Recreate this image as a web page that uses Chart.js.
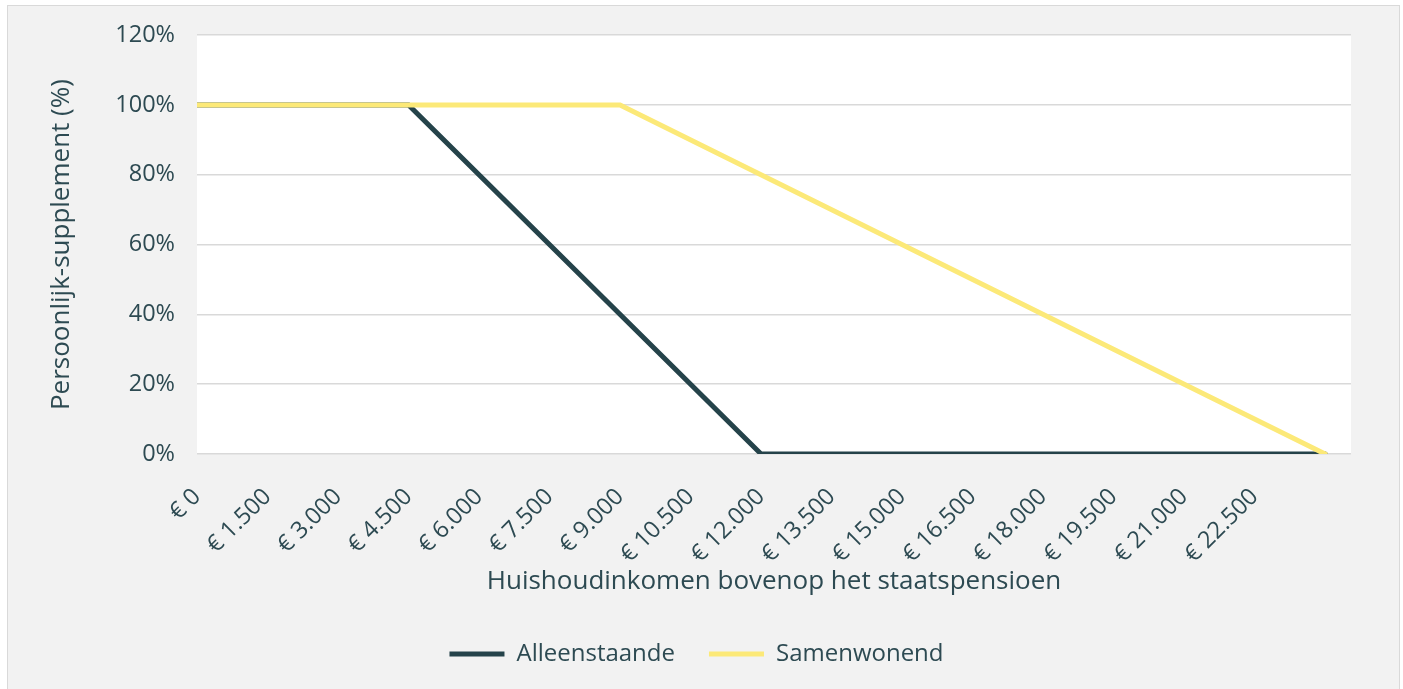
<!DOCTYPE html>
<html>
<head>
<meta charset="utf-8">
<script src="https://cdn.jsdelivr.net/npm/chart.js@4/dist/chart.umd.min.js"></script>
<style>
  html, body { margin: 0; padding: 0; background: #ffffff; overflow: hidden; }
  #wrap {
    position: absolute; left: 7px; top: 5px;
    width: 1391px; height: 683px; overflow: hidden;
    background: #f2f2f2; border: 1px solid #d9d9d9;
  }
  #chart { display: block; position: relative; top: -7px; }
</style>
</head>
<body>
<div id="wrap"><canvas id="chart" width="1391" height="690"></canvas></div>
<script>
// Breakpoints (income in euro, supplement in %)
const alleenstaandeX = [0, 4500, 12000, 24000];
const alleenstaandeY = [100, 100, 0, 0];
const samenwonendX = [0, 9000, 24000];
const samenwonendY = [100, 100, 0];

// x-axis tick labels
const xTickValues = [0, 1500, 3000, 4500, 6000, 7500, 9000, 10500, 12000, 13500, 15000, 16500, 18000, 19500, 21000, 22500];
const xTickLabels = ['€ 0', '€ 1.500', '€ 3.000', '€ 4.500', '€ 6.000', '€ 7.500', '€ 9.000', '€ 10.500',
    '€ 12.000', '€ 13.500', '€ 15.000', '€ 16.500', '€ 18.000', '€ 19.500', '€ 21.000', '€ 22.500'];

const textColor = '#2d4a52';
const fontFamily = '"Open Sans", "Noto Sans", sans-serif';

// white plot area on the grey background
const plotBackground = {
    id: 'plotBackground',
    beforeDraw(chart) {
        const { ctx, chartArea } = chart;
        ctx.save();
        ctx.fillStyle = '#ffffff';
        ctx.fillRect(chartArea.left, chartArea.top, chartArea.right - chartArea.left, chartArea.bottom - chartArea.top);
        ctx.restore();
    }
};

const ctx = document.getElementById('chart').getContext('2d');

new Chart(ctx, {
    type: 'line',
    data: {
        datasets: [
            {
                label: 'Alleenstaande',
                data: alleenstaandeX.map((x, i) => ({ x: x, y: alleenstaandeY[i] })),
                borderColor: '#25434a',
                backgroundColor: '#25434a',
                borderWidth: 5,
                borderCapStyle: 'round',
                pointRadius: 0,
                order: 2
            },
            {
                label: 'Samenwonend',
                data: samenwonendX.map((x, i) => ({ x: x, y: samenwonendY[i] })),
                borderColor: '#fce978',
                backgroundColor: '#fce978',
                borderWidth: 5,
                borderCapStyle: 'round',
                pointRadius: 0,
                order: 1
            }
        ]
    },
    options: {
        responsive: false,
        animation: false,
        layout: {
            padding: { left: 34, right: 48, top: 10, bottom: 13 }
        },
        plugins: {
            legend: {
                display: true,
                position: 'bottom',
                labels: {
                    usePointStyle: true,
                    pointStyle: 'line',
                    pointStyleWidth: 55,
                    color: textColor,
                    padding: 34,
                    font: { family: fontFamily, size: 24 },
                    sort: (a, b) => a.datasetIndex - b.datasetIndex
                }
            },
            tooltip: { enabled: false }
        },
        scales: {
            x: {
                type: 'linear',
                min: 0,
                max: 24550,
                afterBuildTicks: function (scale) {
                    scale.ticks = xTickValues.map(v => ({ value: v }));
                },
                afterFit: function (scale) {
                    scale.height = 154;
                },
                grid: { display: false },
                border: { display: false },
                ticks: {
                    color: textColor,
                    font: { family: fontFamily, size: 23.5 },
                    minRotation: 45,
                    maxRotation: 45,
                    padding: 21,
                    callback: function (value) {
                        const i = xTickValues.indexOf(value);
                        return i >= 0 ? xTickLabels[i] : '';
                    }
                },
                title: {
                    display: true,
                    text: 'Huishoudinkomen bovenop het staatspensioen',
                    color: textColor,
                    font: { family: fontFamily, size: 26 },
                    padding: { top: 4, bottom: 11 }
                }
            },
            y: {
                min: 0,
                max: 120,
                afterFit: function (scale) {
                    scale.width = 155;
                },
                grid: {
                    color: '#d9d9d9',
                    lineWidth: 1.5,
                    drawTicks: false
                },
                border: { display: false },
                ticks: {
                    stepSize: 20,
                    color: textColor,
                    font: { family: fontFamily, size: 23.5 },
                    padding: 22,
                    callback: function (value) {
                        return value + '%';
                    }
                },
                title: {
                    display: true,
                    text: 'Persoonlijk-supplement (%)',
                    color: textColor,
                    font: { family: fontFamily, size: 26 },
                    padding: 4
                }
            }
        }
    },
    plugins: [plotBackground]
});
</script>
</body>
</html>
